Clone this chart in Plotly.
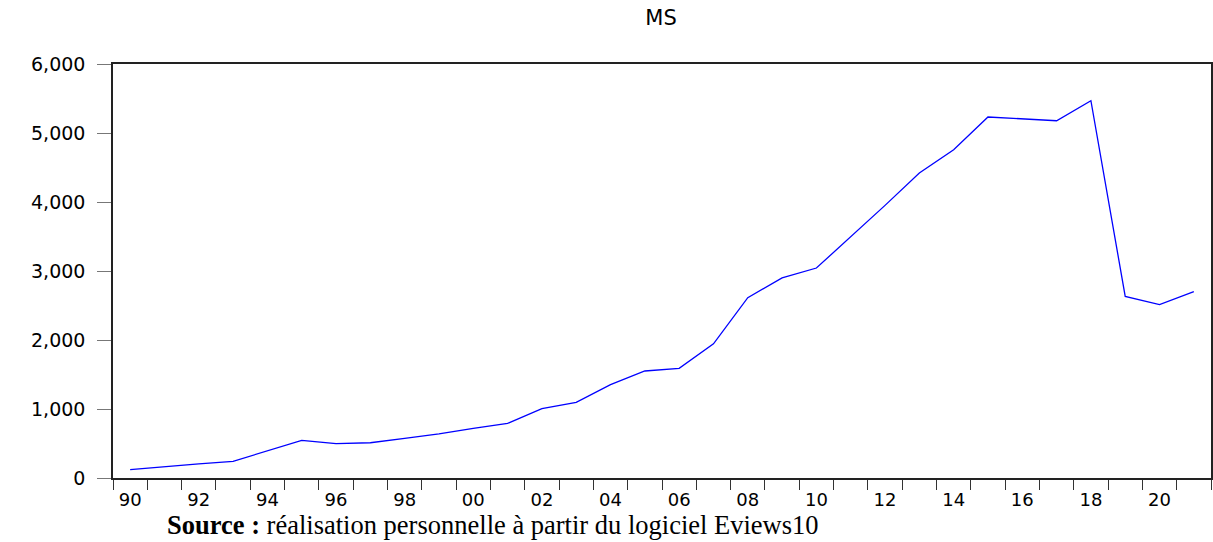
import plotly.graph_objects as go

# Série MS (1990-2021)
annees = list(range(1990, 2022))
ms = [120, 165, 205, 242, 396, 545, 497, 511, 575, 640, 719, 791,
      1004, 1096, 1352, 1551, 1589, 1944, 2613, 2899, 3043, 3493, 3951, 4420,
      4758, 5232, 5207, 5178, 5468, 2632, 2512, 2700]

y_ticks = [0, 1000, 2000, 3000, 4000, 5000, 6000]
y_labels = ["0", "1,000", "2,000", "3,000", "4,000", "5,000", "6,000"]
x_ticks = list(range(1990, 2021, 2))
x_labels = [f"{a % 100:02d}" for a in x_ticks]
x_bornes = [a - 0.5 for a in range(1990, 2023)]

FONT = "DejaVu Sans, Arial, sans-serif"

fig = go.Figure()
fig.add_trace(go.Scatter(
    x=annees, y=ms, mode="lines",
    line=dict(color="#0000ff", width=1.3),
    showlegend=False,
))

fig.update_layout(
    width=1213, height=542,
    margin=dict(l=113, r=2, t=64, b=64, autoexpand=False),
    plot_bgcolor="white", paper_bgcolor="white",
    title=dict(text="MS", x=0.545, xanchor="center", y=0.967, yanchor="middle",
               yref="container",
               font=dict(family=FONT, size=21, color="black")),
    font=dict(family=FONT, size=18, color="black"),
)

fig.update_xaxes(
    range=[1989.5, 2021.5], automargin=False,
    tickmode="array", tickvals=x_ticks, ticktext=x_labels,
    ticks="outside", ticklen=5, tickcolor="rgba(0,0,0,0)",
    tickfont=dict(family=FONT, size=18),
    minor=dict(tickmode="array", tickvals=x_bornes, ticks="outside",
               ticklen=10, tickcolor="#333333", tickwidth=1),
    showgrid=False, zeroline=False,
    showline=True, linecolor="#222222", linewidth=1.5, mirror=True,
)

fig.update_yaxes(
    range=[0, 6000], automargin=False,
    tickmode="array", tickvals=y_ticks, ticktext=y_labels,
    ticks="outside", ticklen=14, tickcolor="#777777", tickwidth=1,
    ticklabelstandoff=8,
    tickfont=dict(family=FONT, size=19),
    showgrid=False, zeroline=False,
    showline=True, linecolor="#222222", linewidth=1.5, mirror=True,
)

fig.add_annotation(
    text="<b>Source :</b> réalisation personnelle à partir du logiciel Eviews10",
    xref="paper", yref="paper", x=(165 - 113) / 1098, y=-0.072,
    xanchor="left", yanchor="top", showarrow=False,
    font=dict(family="Liberation Serif, Times New Roman, serif", size=26.5, color="black"),
)

fig.write_html("out.html", config={"displayModeBar": False},
               post_script="document.body.style.margin='0px';")
